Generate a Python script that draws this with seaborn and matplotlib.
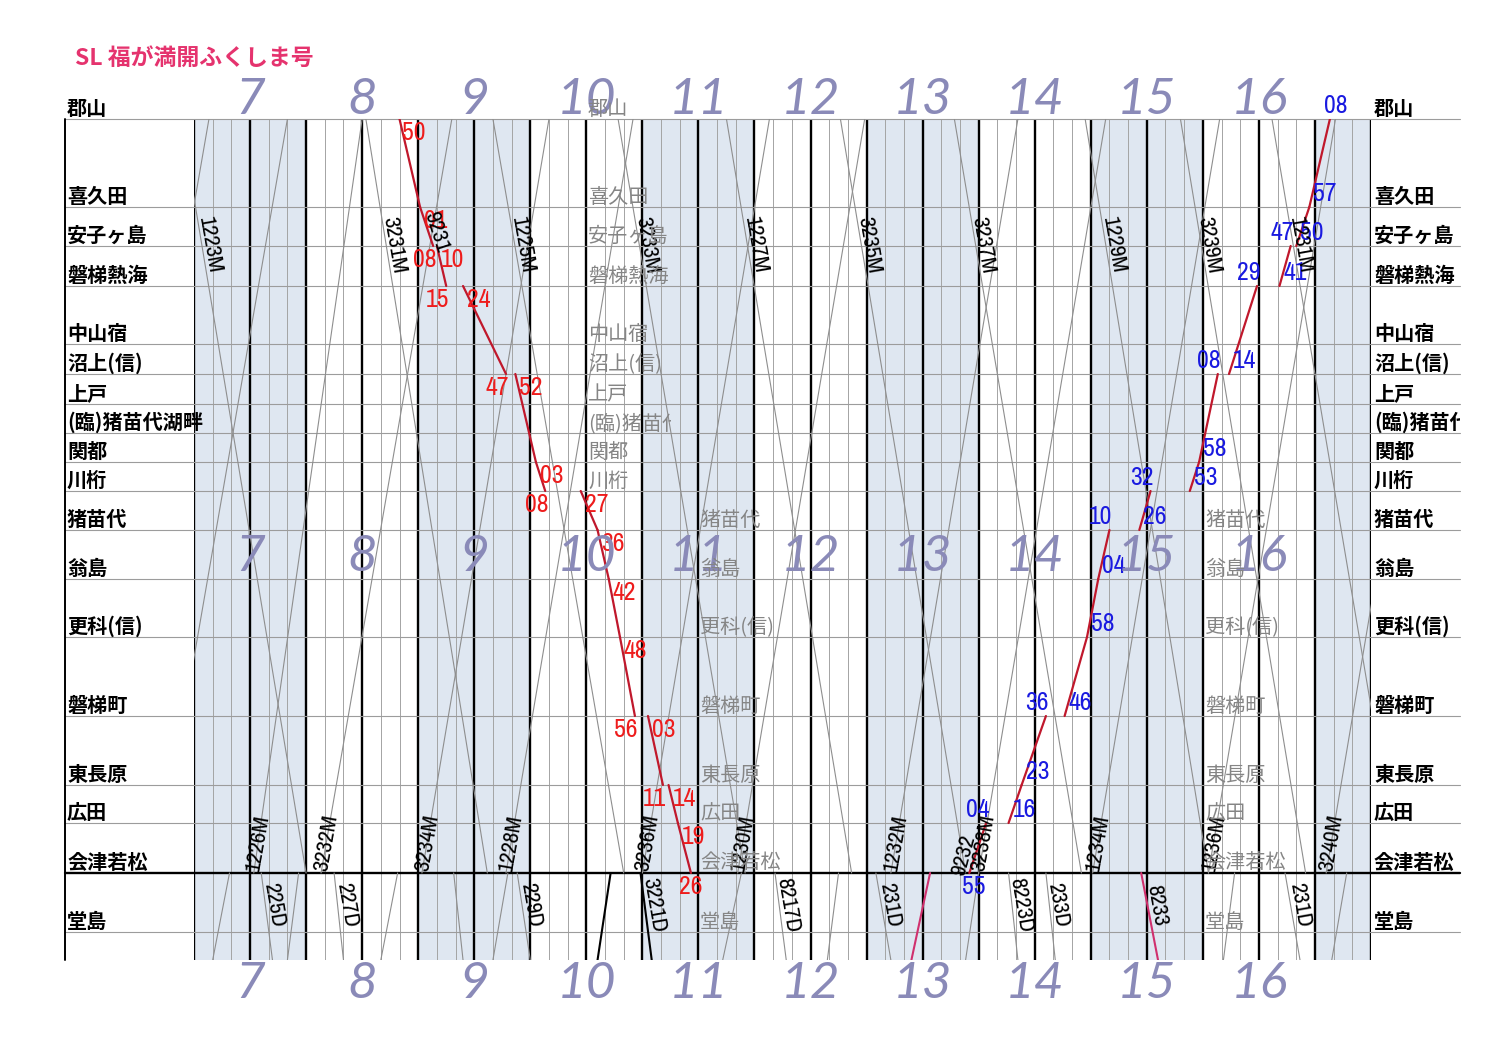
import numpy as np
import pandas as pd
import matplotlib.pyplot as plt
import seaborn as sns
from matplotlib.transforms import Bbox, TransformedBbox, blended_transform_factory

# stations, position down the diagram (郡山 = 0)
stations = ["郡山", "喜久田", "安子ヶ島", "磐梯熱海", "中山宿", "沼上(信)", "上戸",
            "(臨)猪苗代湖畔", "関都", "川桁", "猪苗代", "翁島", "更科(信)", "磐梯町",
            "東長原", "広田", "会津若松", "堂島", "笈川"]
station_y = [0, 88, 127, 167, 225, 255, 285, 314, 343, 372, 411, 460, 518, 597,
             666, 704, 754, 813, 841]

# SL 福が満開ふくしま号 (down)
sl_down_no = "9231"
sl_down_st = ["郡山", "喜久田", "安子ヶ島", "磐梯熱海", "沼上(信)", "関都", "川桁",
              "猪苗代", "翁島", "更科(信)", "磐梯町", "東長原", "広田", "会津若松"]
sl_down_arr = ["8:50", "9:01", "9:08", "9:15", "9:47", "10:03", "10:08",
               "10:36", "10:42", "10:48", "10:56", "11:11", "11:19", "11:26"]
sl_down_dep = ["8:50", "9:01", "9:10", "9:24", "9:52", "10:03", "10:27",
               "10:36", "10:42", "10:48", "11:03", "11:14", "11:19", "11:26"]

# SL (up)
sl_up_no = "9232"
sl_up_st = ["会津若松", "広田", "東長原", "磐梯町", "更科(信)", "翁島", "猪苗代",
            "川桁", "関都", "沼上(信)", "磐梯熱海", "安子ヶ島", "喜久田", "郡山"]
sl_up_arr = ["13:55", "14:04", "14:23", "14:36", "14:58", "15:04", "15:10",
             "15:32", "15:58", "16:08", "16:29", "16:47", "16:57", "17:08"]
sl_up_dep = ["13:55", "14:16", "14:23", "14:46", "14:58", "15:04", "15:26",
             "15:53", "15:58", "16:14", "16:41", "16:50", "16:57", "17:08"]

# other trains 郡山 -> 会津若松
down_no = ["1223M", "3231M", "1225M", "3233M", "1227M", "3235M", "3237M",
           "1229M", "3239M", "1231M"]
down_dep = ["6:53", "8:32", "9:40", "10:47", "11:45", "12:46", "13:47",
            "14:57", "15:48", "16:37"]
down_arr = ["8:00", "9:37", "10:50", "11:55", "12:52", "13:53", "14:55",
            "16:03", "16:55", "17:45"]

# other trains 会津若松 -> 郡山
up_no = ["", "", "1226M", "3232M", "3234M", "1228M", "3236M", "1230M",
         "1232M", "3238M", "1234M", "1236M", "3240M"]
up_dep = ["5:58", "6:40", "7:32", "8:08", "9:02", "9:47", "11:00", "11:51",
          "13:13", "14:00", "15:01", "16:03", "17:06"]
up_arr = ["7:08", "7:50", "8:30", "9:18", "10:10", "10:55", "12:08", "12:59",
          "14:21", "15:08", "16:09", "17:11", "18:14"]

# 会津若松 -> 堂島 side
west_no = ["225D", "227D", "", "229D", "3221D", "8217D", "231D", "8223D",
           "233D", "8233", "231D"]
west_dep = ["7:36", "8:15", "9:19", "9:53", "10:59", "12:11", "13:05", "14:16",
            "14:36", "15:27", "16:44"]
west_edge = ["7:42", "8:20", "9:24", "10:00", "11:05", "12:17", "13:13", "14:21",
             "14:41", "15:36", "16:52"]
west_kind = ["g", "g", "g", "g", "k", "g", "g", "g", "g", "m", "g"]

# 堂島 side -> 会津若松
east_edge = ["7:10", "7:50", "8:40", "9:40", "10:36", "11:43", "12:39", "13:24",
             "13:53", "16:11", "17:09"]
east_arr = ["7:19", "7:56", "8:49", "9:48", "10:43", "11:53", "12:45", "13:34",
            "14:00", "16:17", "17:17"]
east_kind = ["g", "g", "g", "g", "k", "g", "g", "m", "g", "g", "g"]

hours = list(range(7, 17))


def hm(s):
    h, m = s.split(":")
    return int(h) + int(m) / 60


pos = dict(zip(stations, station_y))
Y0, Y1, YE = pos["郡山"], pos["会津若松"], pos["笈川"]

sns.set_theme(style="white")
plt.rcParams["font.family"] = ["Noto Sans CJK JP", "DejaVu Sans"]
narrow = ["Archivo Narrow", "DejaVu Sans"]

fig = plt.figure(figsize=(15, 10.64), dpi=100)
ax = fig.add_axes([194 / 1500, 1 - 960 / 1064, 1177 / 1500, 841 / 1064])
ax.set_xlim(7, 17.5)
ax.set_ylim(841, 0)
ax.axis("off")
figy = blended_transform_factory(fig.transFigure, ax.transData)

# hour bands + grid
for h in range(7, 18, 2):
    ax.axvspan(h, min(h + 1, 17.5), color="#dfe7f1", lw=0, zorder=0)
for m in range(0, 631, 10):
    t = 7 + m / 60
    if m % 30 == 0:
        ax.plot([t, t], [0, 841], color="black", lw=1.7, zorder=2)
    else:
        ax.plot([t, t], [0, 841], color="#a4a4a4", lw=0.7, zorder=1)

for s, y in zip(stations[:-1], station_y[:-1]):
    heavy = s == "会津若松"
    ax.plot([65 / 1500, 1460 / 1500], [y, y], transform=figy, clip_on=False,
            color="black" if heavy else "#9c9c9c", lw=1.7 if heavy else 0.8, zorder=2)
ax.plot([65 / 1500, 65 / 1500], [0, 841], transform=figy, clip_on=False,
        color="black", lw=1.4)

# other trains
rows = []
for i, (d, a) in enumerate(zip(down_dep, down_arr)):
    rows += [("d%d" % i, hm(d), Y0), ("d%d" % i, hm(a), Y1)]
for i, (d, a) in enumerate(zip(up_dep, up_arr)):
    rows += [("u%d" % i, hm(d), Y1), ("u%d" % i, hm(a), Y0)]
for i, (d, a, k) in enumerate(zip(west_dep, west_edge, west_kind)):
    if k == "g":
        rows += [("w%d" % i, hm(d), Y1), ("w%d" % i, hm(a), YE)]
for i, (d, a, k) in enumerate(zip(east_edge, east_arr, east_kind)):
    if k == "g":
        rows += [("e%d" % i, hm(d), YE), ("e%d" % i, hm(a), Y1)]
others = pd.DataFrame(rows, columns=["train", "time", "y"])
sns.lineplot(data=others, x="time", y="y", units="train", estimator=None,
             sort=False, color="#8e8e8e", lw=0.8, ax=ax, zorder=3)

special = []
for i, (d, a, k) in enumerate(zip(west_dep, west_edge, west_kind)):
    if k != "g":
        special += [("w%d" % i, k, hm(d), Y1), ("w%d" % i, k, hm(a), YE)]
for i, (d, a, k) in enumerate(zip(east_edge, east_arr, east_kind)):
    if k != "g":
        special += [("e%d" % i, k, hm(d), YE), ("e%d" % i, k, hm(a), Y1)]
special = pd.DataFrame(special, columns=["train", "kind", "time", "y"])
sns.lineplot(data=special, x="time", y="y", units="train", estimator=None,
             sort=False, hue="kind", palette={"k": "black", "m": "#d0306e"},
             lw=1.5, ax=ax, zorder=4, legend=False)

# SL runs (stops leave a gap)
seg = []
for tag, st, arr, dep in [("d", sl_down_st, sl_down_arr, sl_down_dep),
                          ("u", sl_up_st, sl_up_arr, sl_up_dep)]:
    for i in range(len(st) - 1):
        seg += [(tag + str(i), hm(dep[i]), pos[st[i]]),
                (tag + str(i), hm(arr[i + 1]), pos[st[i + 1]])]
seg = pd.DataFrame(seg, columns=["seg", "time", "y"])
sns.lineplot(data=seg, x="time", y="y", units="seg", estimator=None, sort=False,
             color="#c0182c", lw=1.6, ax=ax, zorder=5)


def time_labels(st, arr, dep, color, below):
    va = "top" if below else "bottom"
    dy = -2 if below else 2
    last = len(st) - 1
    for i, s in enumerate(st):
        y = pos[s]
        kw = dict(textcoords="offset pixels", color=color, fontsize=18.5,
                  family=narrow, zorder=6)
        if i == 0:
            ax.annotate(dep[i][-2:], (hm(dep[i]), y), xytext=(2 if below else 4, -2),
                        ha="left" if below else "center", va="top", **kw)
        elif i == last:
            ax.annotate(arr[i][-2:], (hm(arr[i]), y), xytext=(0 if below else 6, dy),
                        ha="center", va=va, **kw)
        elif arr[i] == dep[i]:
            ax.annotate(dep[i][-2:], (hm(dep[i]), y), xytext=(4, dy),
                        ha="left", va=va, **kw)
        else:
            ax.annotate(arr[i][-2:], (hm(arr[i]), y), xytext=(3, dy),
                        ha="right", va=va, **kw)
            ax.annotate(dep[i][-2:], (hm(dep[i]), y), xytext=(4, dy),
                        ha="left", va=va, **kw)


time_labels(sl_down_st, sl_down_arr, sl_down_dep, "#ee1c1c", True)
time_labels(sl_up_st, sl_up_arr, sl_up_dep, "#1a1ae0", False)

# train numbers
lab = dict(textcoords="offset pixels", fontsize=16.5, family=narrow, color="black",
           ha="center", va="center", zorder=6)
ty = 126
for no, d, a in zip(down_no, down_dep, down_arr):
    t = np.interp(ty, [Y0, Y1], [hm(d), hm(a)])
    ax.annotate(no, (t, ty), xytext=(8, 0), rotation=-80, **lab)
ty = 724
for no, d, a in zip(up_no, up_dep, up_arr):
    if no:
        t = np.interp(ty, [Y0, Y1], [hm(a), hm(d)])
        ax.annotate(no, (t, ty), xytext=(0, 0), rotation=80, **lab)
ty = 786
for no, d, a in zip(west_no, west_dep, west_edge):
    if no:
        t = np.interp(ty, [Y1, YE], [hm(d), hm(a)])
        ax.annotate(no, (t, ty), xytext=(9, 0), rotation=-80, **lab)

t = np.interp(113, [pos["喜久田"], pos["安子ヶ島"]], [hm(sl_down_dep[1]), hm(sl_down_arr[2])])
ax.annotate(sl_down_no, (t, 113), xytext=(8, 0), rotation=-72, **lab)
t = np.interp(736, [pos["広田"], pos["会津若松"]], [hm(sl_up_arr[1]), hm(sl_up_dep[0])])
ax.annotate(sl_up_no, (t, 736), xytext=(-12, 0), rotation=75, **lab)

# hour numerals
for yy in [-19, 438, 865]:
    for h in hours:
        ax.text(h + 0.5, yy, str(h), ha="center", va="center", fontsize=37,
                family=["Lato", "DejaVu Sans"], style="italic",
                color="#8a8ab8", zorder=7, clip_on=False)

# station names
def name_text(x_px, s, color, weight, clip_px=None):
    t = ax.annotate(s, (x_px / 1500, pos[s]), xycoords=figy, xytext=(0, 4),
                    textcoords="offset pixels", ha="left", va="baseline",
                    fontsize=14.5, color=color, fontweight=weight, zorder=8,
                    annotation_clip=False)
    if clip_px:
        t.set_clip_box(TransformedBbox(Bbox.from_extents(0, 0, clip_px / 1500, 1),
                                       fig.transFigure))
        t.set_clip_on(True)
    return t


for s in stations[:-1]:
    name_text(67, s, "black", "bold")
    name_text(1374, s, "black", "bold", clip_px=1460)

for s in stations[:10]:
    name_text(588, s, "#858585", "normal", clip_px=671)
for s in stations[10:18]:
    name_text(700, s, "#858585", "normal")
    name_text(1205, s, "#858585", "normal")

fig.text(75 / 1500, 1 - 58 / 1064, "SL 福が満開ふくしま号", color="#e5336e",
         fontsize=16.5, fontweight="bold", va="center", ha="left")

fig.savefig("out.png", dpi=100, facecolor="white")
